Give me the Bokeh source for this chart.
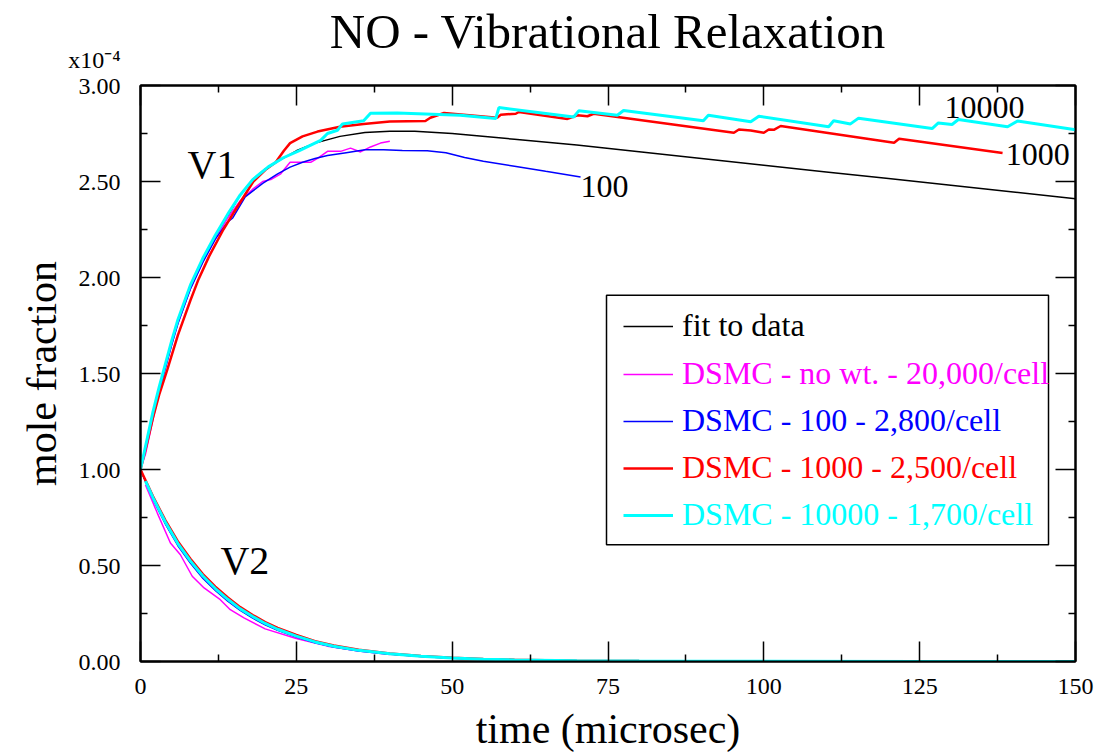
from bokeh.plotting import figure
from bokeh.models import (Range1d, FixedTicker, LinearAxis, Label, Legend, LegendItem,
                          BoxAnnotation, PrintfTickFormatter, Title)
from bokeh.embed import file_html
from bokeh.resources import INLINE

FONT = "Liberation Serif"

# ---------------- data (mole fraction in units of 1e-4, time in microsec) ----------------
fit_v1_t = [0, 1, 2, 3, 4, 5, 6, 7, 8, 9, 10, 12, 14, 16, 18, 20, 22, 25, 28, 32, 36, 40, 44,
            50, 60, 70, 80, 90, 100, 110, 120, 130, 140, 150]
fit_v1 = [1.00, 1.15, 1.29, 1.42, 1.54, 1.66, 1.77, 1.86, 1.95, 2.02, 2.09, 2.21, 2.32, 2.43,
          2.51, 2.565, 2.605, 2.66, 2.70, 2.735, 2.755, 2.762, 2.762, 2.75, 2.72, 2.69, 2.655,
          2.62, 2.585, 2.55, 2.515, 2.48, 2.445, 2.41]

nowt_v1_t = [0, 0.8, 2, 3, 4, 5, 6, 8, 10, 12, 14, 16, 18, 19.6, 20.9, 22.5, 24, 27.3, 28.4, 30,
             32.1, 33.7, 35.3, 36.9, 38.5, 40]
nowt_v1 = [1.00, 1.08, 1.26, 1.40, 1.53, 1.65, 1.76, 1.94, 2.08, 2.20, 2.31, 2.40, 2.46, 2.50,
           2.51, 2.54, 2.60, 2.60, 2.62, 2.657, 2.657, 2.674, 2.654, 2.68, 2.70, 2.71]

w100_v1_t = [0, 1, 2, 3, 4, 5, 6, 8, 10, 12, 14, 14.8, 16.8, 19.6, 22, 24, 26, 28, 30, 33, 36,
             39, 42, 46, 49, 52, 55, 60, 65, 70.6]
w100_v1 = [1.00, 1.14, 1.28, 1.41, 1.53, 1.65, 1.76, 1.94, 2.08, 2.20, 2.29, 2.31, 2.42, 2.49,
           2.54, 2.575, 2.60, 2.62, 2.635, 2.65, 2.665, 2.665, 2.662, 2.66, 2.65, 2.625, 2.605,
           2.579, 2.553, 2.524]

w1000_v1_t = [0, 1, 2, 3, 4.3, 6, 8, 9.3, 11, 13.3, 15, 18.1, 20, 21.7, 23, 24, 26, 28.4, 32,
              35.8, 40, 45.7, 46.5, 48.7, 57.2, 57.8, 60.2, 60.7, 68.5, 70.1, 71.7, 72.7, 95.2,
              96, 97.9, 100, 100.8, 101.6, 102.7, 120.9, 121.7, 138.3]
w1000_v1 = [1.00, 1.13, 1.27, 1.39, 1.52, 1.70, 1.88, 1.99, 2.11, 2.25, 2.34, 2.50, 2.56, 2.60,
            2.66, 2.70, 2.735, 2.76, 2.785, 2.80, 2.812, 2.815, 2.832, 2.857, 2.832, 2.848,
            2.853, 2.862, 2.826, 2.845, 2.84, 2.853, 2.754, 2.771, 2.766, 2.754, 2.771, 2.769,
            2.789, 2.702, 2.723, 2.648]

w10000_v1_t = [0, 0.8, 2, 3, 4, 5, 6, 8, 10, 12, 14, 16, 18, 20.5, 23, 25.4, 28.9, 30, 31.6,
               32.4, 35.8, 36.9, 41.2, 51.3, 57, 57.5, 69.5, 70.3, 76.5, 77.5, 90.3, 91.1, 97.9,
               99.2, 110.4, 111.2, 113.9, 115.2, 127, 128, 130.2, 131.2, 139.1, 140.7, 150]
w10000_v1 = [1.00, 1.12, 1.30, 1.43, 1.55, 1.67, 1.78, 1.96, 2.10, 2.22, 2.33, 2.43, 2.51,
             2.576, 2.625, 2.66, 2.714, 2.75, 2.767, 2.80, 2.816, 2.855, 2.857, 2.845, 2.828,
             2.885, 2.836, 2.868, 2.845, 2.87, 2.816, 2.845, 2.811, 2.84, 2.785, 2.816, 2.80,
             2.83, 2.776, 2.805, 2.797, 2.823, 2.785, 2.815, 2.77]

fit_v2_t = [0, 2, 4, 6, 8, 10, 12, 14, 16, 18, 20, 22, 25, 28, 31, 35, 40, 45, 50, 55, 60, 70,
            80, 100, 125, 150]
fit_v2 = [1.00, 0.85, 0.72, 0.61, 0.52, 0.44, 0.375, 0.32, 0.27, 0.23, 0.195, 0.165, 0.13, 0.10,
          0.078, 0.057, 0.039, 0.027, 0.018, 0.012, 0.008, 0.004, 0.002, 0.001, 0.0, 0.0]

nowt_v2_t = [0.8, 2.7, 4.8, 6.4, 8.3, 10.2, 12.8, 14.4, 16.6, 20, 25, 30, 35, 40]
nowt_v2 = [0.92, 0.773, 0.617, 0.556, 0.444, 0.383, 0.322, 0.27, 0.227, 0.17, 0.12, 0.08, 0.055,
           0.037]

w100_v2_t = [0, 2, 4, 6, 8, 10, 12, 14, 16, 18, 20, 22, 25, 28, 31, 35, 40, 45, 50, 55, 60, 70]
w100_v2 = [1.00, 0.845, 0.715, 0.603, 0.513, 0.434, 0.37, 0.314, 0.266, 0.226, 0.191, 0.162,
           0.127, 0.098, 0.076, 0.055, 0.038, 0.026, 0.017, 0.011, 0.007, 0.003]

w1000_v2_t = [0, 2, 4, 6, 8, 10, 12, 14, 16, 18, 20, 22, 25, 28, 31, 35, 40, 45, 50, 55, 60, 70,
              80, 100, 138]
w1000_v2 = [1.00, 0.86, 0.735, 0.625, 0.535, 0.455, 0.39, 0.333, 0.283, 0.242, 0.205, 0.175,
            0.138, 0.106, 0.083, 0.061, 0.042, 0.029, 0.02, 0.013, 0.009, 0.004, 0.002, 0.001, 0.0]

w10000_v2_t = [0.8, 2, 4, 6, 8, 10, 12, 14, 16, 18, 20, 22, 25, 28, 31, 35, 40, 45, 50, 55, 60,
               70, 80, 100, 125, 150]
w10000_v2 = [0.94, 0.853, 0.725, 0.614, 0.524, 0.445, 0.38, 0.324, 0.274, 0.234, 0.198, 0.168,
             0.132, 0.102, 0.079, 0.058, 0.04, 0.027, 0.018, 0.012, 0.008, 0.004, 0.002, 0.001,
             0.0, 0.0]

x_ticks = [0, 25, 50, 75, 100, 125, 150]
x_minor = [12.5, 37.5, 62.5, 87.5, 112.5, 137.5]
y_ticks = [0.0, 0.5, 1.0, 1.5, 2.0, 2.5, 3.0]
y_minor = [0.25, 0.75, 1.25, 1.75, 2.25, 2.75]
y_scale_note = "x10\u207b\u2074"

series_labels = ["fit to data", "DSMC - no wt. - 20,000/cell", "DSMC - 100 - 2,800/cell",
                 "DSMC - 1000 - 2,500/cell", "DSMC - 10000 - 1,700/cell"]
series_colors = ["#000000", "#FF00FF", "#0000FF", "#FF0000", "#00FFFF"]
series_widths = [1.5, 1.5, 1.5, 2.5, 3.0]

# ---------------- figure ----------------
p = figure(width=1099, height=754, x_range=Range1d(0, 150), y_range=Range1d(0, 3.0),
           output_backend="svg", toolbar_location=None,
           min_border_left=140, min_border_right=24, min_border_top=85, min_border_bottom=92)
p.xgrid.visible = False
p.ygrid.visible = False
p.outline_line_color = "black"
p.outline_line_width = 2
p.background_fill_color = "white"
p.border_fill_color = "white"

p.title = Title(text="NO - Vibrational Relaxation", align="center", vertical_align="bottom",
                text_font=FONT, text_font_size="49px", text_font_style="normal",
                text_color="black", standoff=0)


def style_axis(ax, ticks, minor, show_labels=True):
    ax.ticker = FixedTicker(ticks=ticks, minor_ticks=minor)
    ax.major_tick_in = 20
    ax.major_tick_out = 0
    ax.minor_tick_in = 7
    ax.minor_tick_out = 0
    ax.axis_line_width = 2
    ax.axis_line_color = "black"
    ax.major_tick_line_width = 1.5
    ax.minor_tick_line_width = 1.5
    ax.major_tick_line_color = "black"
    ax.minor_tick_line_color = "black"
    ax.major_label_text_font = FONT
    ax.major_label_text_color = "black"
    ax.axis_label_text_color = "black"
    if show_labels:
        ax.major_label_text_font_size = "24px"
    else:
        ax.major_label_overrides = {t: "" for t in ticks}
        ax.major_label_text_font_size = "2px"
        ax.major_label_standoff = 0


xa = p.xaxis[0]
style_axis(xa, x_ticks, x_minor)
xa.formatter = PrintfTickFormatter(format="%d")
xa.major_label_standoff = 17
xa.axis_label = "time (microsec)"
xa.axis_label_text_font = FONT
xa.axis_label_text_font_size = "42px"
xa.axis_label_text_font_style = "normal"
xa.axis_label_standoff = 9

ya = p.yaxis[0]
style_axis(ya, y_ticks, y_minor)
ya.formatter = PrintfTickFormatter(format="%.2f")
ya.major_label_overrides = {3.0: y_scale_note + "\n3.00\n\u00a0"}
ya.major_label_text_line_height = 1.0
ya.major_label_standoff = 20
ya.axis_label = "mole fraction"
ya.axis_label_text_font = FONT
ya.axis_label_text_font_size = "42px"
ya.axis_label_text_font_style = "normal"
ya.axis_label_standoff = 0

# top axis: ticks only; its blank labels keep a gap between the frame and the title
top_ax = LinearAxis()
style_axis(top_ax, x_ticks, x_minor, show_labels=False)
top_ax.major_label_overrides = {t: "\u00a0" for t in x_ticks}
top_ax.major_label_text_font_size = "19px"
top_ax.major_label_standoff = 3
p.add_layout(top_ax, "above")
right_ax = LinearAxis()
style_axis(right_ax, y_ticks, y_minor, show_labels=False)
p.add_layout(right_ax, "right")

# ---------------- lines ----------------
v1_sets = [(fit_v1_t, fit_v1), (nowt_v1_t, nowt_v1), (w100_v1_t, w100_v1),
           (w1000_v1_t, w1000_v1), (w10000_v1_t, w10000_v1)]
v2_sets = [(fit_v2_t, fit_v2), (nowt_v2_t, nowt_v2), (w100_v2_t, w100_v2),
           (w1000_v2_t, w1000_v2), (w10000_v2_t, w10000_v2)]

v1_renderers = []
for (t, v), col, lw in zip(v1_sets, series_colors, series_widths):
    v1_renderers.append(p.line(t, v, line_color=col, line_width=lw))
for (t, v), col, lw in zip(v2_sets, series_colors, series_widths):
    p.line(t, v, line_color=col, line_width=lw)

# ---------------- legend (box + one row per series, coloured text) ----------------
p.add_layout(BoxAnnotation(left=74.76, right=145.67, bottom=0.608, top=1.908,
                           fill_alpha=0, line_color="black", line_alpha=1.0, line_width=1.5))
row_bottoms = [317, 269, 222, 175, 128]
for r, lab, col, yb in zip(v1_renderers, series_labels, series_colors, row_bottoms):
    lg = Legend(items=[LegendItem(label=lab, renderers=[r])], location=(483, yb),
                padding=0, margin=0, spacing=0, border_line_alpha=0,
                background_fill_alpha=0, glyph_width=50, glyph_height=36, label_height=36,
                label_standoff=9, label_text_font=FONT, label_text_font_size="32px",
                label_text_color=col)
    p.add_layout(lg, "center")

# ---------------- annotations ----------------
def add_label(x, y, text, size, align="left"):
    p.add_layout(Label(x=x, y=y, text=text, text_font=FONT, text_font_size=size,
                       text_color="black", text_align=align, text_baseline="alphabetic"))


add_label(7.54, 2.589, "V1", "40px")
add_label(12.83, 0.528, "V2", "40px")
add_label(70.6, 2.475, "100", "32px")
add_label(138.8, 2.641, "1000", "32px")
add_label(129.0, 2.886, "10000", "32px")

open("out.html", "w").write(file_html(p, INLINE))
